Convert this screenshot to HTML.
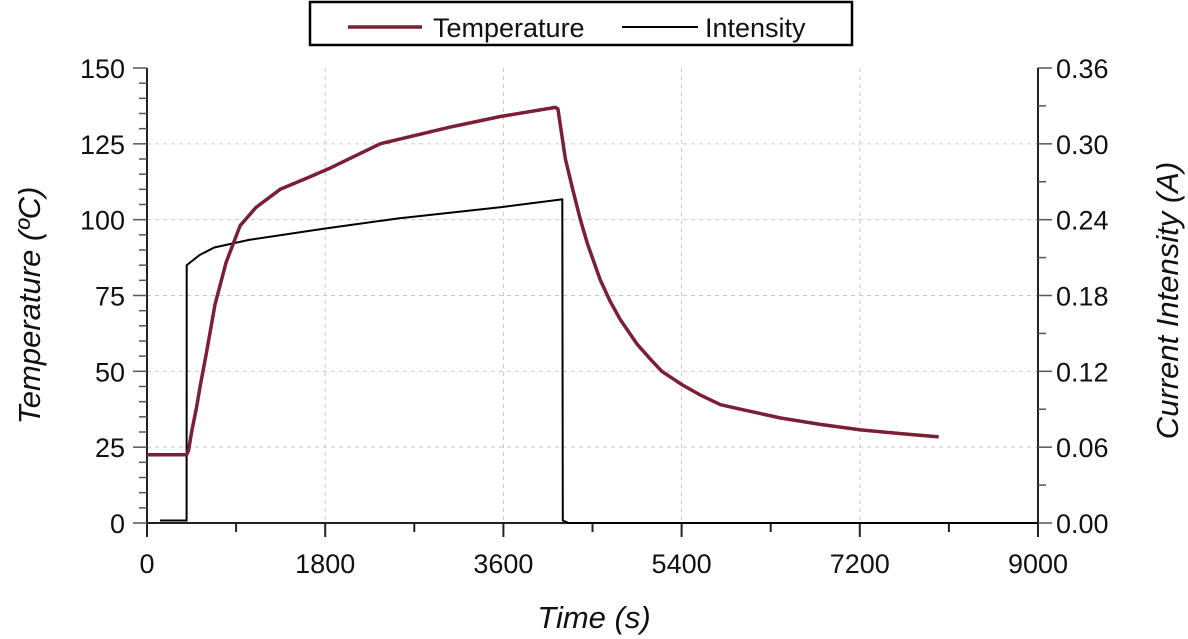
<!DOCTYPE html>
<html><head><meta charset="utf-8"><style>
body{margin:0;background:#fff}
svg{display:block;font-family:"Liberation Sans",Arial,sans-serif}
</style></head><body>
<svg id="chart" width="1188" height="639" viewBox="0 0 1188 639"></svg>
<script>
const tempTimes=[0,400,420,450,500,536,600,687,800,940,1100,1345,1600,1850,2356,3063,3569,4125,4150,4226,4300,4378,4450,4580,4680,4782,4950,5085,5200,5409,5600,5793,6000,6400,6800,7208,7600,7997];
const tempValues=[22.5,22.5,24,30,38,45,56,72,86,98,104,110,113.5,117,125,130.5,134,137,136.5,120,110,100,92,80,73,67,59,54,50,45.5,42,39,37.5,34.6,32.5,30.7,29.5,28.4];
const curTimes=[130,400,401,530,680,1030,1800,2540,3590,4190,4195,4200,4260,9000];
const curValues=[0.002,0.002,0.204,0.212,0.218,0.224,0.233,0.241,0.25,0.256,0.256,0.002,0,0];
const xTicks=[0,1800,3600,5400,7200,9000];
const yLeftTicks=[0,25,50,75,100,125,150];
const yRightTicks=["0.00","0.06","0.12","0.18","0.24","0.30","0.36"];
const L=147,R=1038,T=68,B=523;
const xs=v=>L+(v/9000)*(R-L);
const yl=v=>B-(v/150)*(B-T);
const yr=v=>B-(v/0.36)*(B-T);
const svg=document.getElementById('chart');
const NS='http://www.w3.org/2000/svg';
function mk(tag,attrs,parent){const e=document.createElementNS(NS,tag);for(const k in attrs)e.setAttribute(k,attrs[k]);(parent||svg).appendChild(e);return e;}
xTicks.slice(1,-1).forEach(v=>{const g=mk('line',{x1:xs(v),x2:xs(v),y1:T,y2:B,stroke:'#c8c8c8','stroke-dasharray':'4,4'});});
yLeftTicks.slice(1,-1).forEach(v=>{const g=mk('line',{x1:L,x2:R,y1:yl(v),y2:yl(v),stroke:'#c8c8c8','stroke-dasharray':'4,4'});});
const ax=mk('path',{d:`M${L},${T}V${B}H${R}V${T}`,fill:'none',stroke:'#222','stroke-width':2});

for(let v=0;v<=9000;v+=900){const major=v%1800===0;mk('line',{x1:xs(v),x2:xs(v),y1:B,y2:B+(major?14:9),stroke:'#222','stroke-width':2});}
xTicks.forEach(v=>{const t=mk('text',{x:xs(v),y:B+50,'font-size':27,'text-anchor':'middle',fill:'#111'});t.textContent=v;});
for(let v=0;v<=150;v+=5){const major=v%25===0;mk('line',{x1:L,x2:L-(major?14:8),y1:yl(v),y2:yl(v),stroke:'#555','stroke-width':1.5});}
yLeftTicks.forEach(v=>{const t=mk('text',{x:L-22,y:yl(v)+10,'font-size':27,'text-anchor':'end',fill:'#111'});t.textContent=v;});
for(let i=0;i<=12;i++){const v=i*0.03;const major=i%2===0;mk('line',{x1:R,x2:R+(major?14:8),y1:yr(v),y2:yr(v),stroke:'#555','stroke-width':1.5});}
yRightTicks.forEach(s=>{const t=mk('text',{x:R+18,y:yr(parseFloat(s))+10,'font-size':27,fill:'#111'});t.textContent=s;});
let t=mk('text',{x:594,y:628,'font-size':31,'font-style':'italic','text-anchor':'middle',fill:'#111'});t.textContent='Time (s)';
t=mk('text',{x:0,y:0,'font-size':31,'font-style':'italic','text-anchor':'middle',fill:'#111',transform:`translate(40,${(T+B)/2+10}) rotate(-90)`});t.textContent='Temperature (ºC)';
t=mk('text',{x:0,y:0,'font-size':31,'font-style':'italic','text-anchor':'middle',fill:'#111',transform:`translate(1178,${(T+B)/2+5}) rotate(-90)`});t.textContent='Current Intensity (A)';
const cp=mk('path',{d:curTimes.map((x,i)=>(i?'L':'M')+xs(x).toFixed(1)+','+yr(curValues[i]).toFixed(1)).join(''),fill:'none',stroke:'#000','stroke-width':2});

const tp=mk('path',{d:tempTimes.map((x,i)=>(i?'L':'M')+xs(x).toFixed(1)+','+yl(tempValues[i]).toFixed(1)).join(''),fill:'none',stroke:'#7a1f35','stroke-width':3.5,'stroke-linejoin':'round'});

const lg=mk('g',{});
mk('rect',{x:310,y:2,width:542,height:43,fill:'#fff',stroke:'#000','stroke-width':2.5},lg);
mk('line',{x1:348,x2:422,y1:27,y2:27,stroke:'#7a1f35','stroke-width':3.5},lg);
t=mk('text',{x:433,y:37,'font-size':27,fill:'#111'},lg);t.textContent='Temperature';
mk('line',{x1:622,x2:698,y1:27,y2:27,stroke:'#000','stroke-width':2},lg);
t=mk('text',{x:705,y:37,'font-size':27,fill:'#111'},lg);t.textContent='Intensity';
</script>
</body></html>
